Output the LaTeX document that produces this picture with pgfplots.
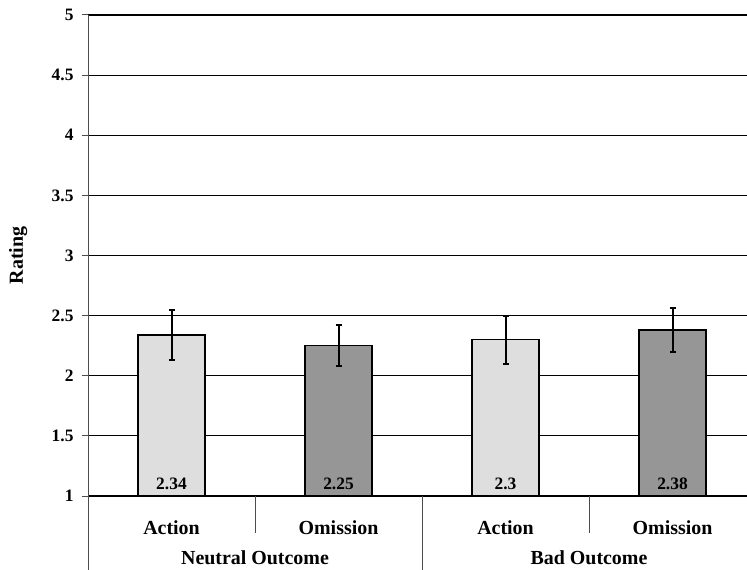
\documentclass[border=0pt]{standalone}
\usepackage{pgfplots}
\pgfplotsset{compat=1.18}
\usepackage{fontspec}
\setmainfont{Liberation Serif}
\definecolor{lightbar}{RGB}{222,222,222}
\definecolor{darkbar}{RGB}{150,150,150}
\newcommand{\bigf}{\fontsize{20}{24}\selectfont\bfseries}
\newcommand{\smallf}{\fontsize{17.5}{20}\selectfont\bfseries}
\begin{document}
\begin{tikzpicture}
\begin{axis}[
  at={(88bp,74bp)}, anchor=south west,
  scale only axis, width=659bp, height=481bp,
  xmin=-0.5, xmax=3.446, ymin=1, ymax=5,
  clip=false,
  axis x line*=bottom, axis y line*=left,
  axis line style={-},
  x axis line style={black, line width=1.2bp},
  y axis line style={black!70, line width=1bp},
  ytick={1,1.5,2,2.5,3,3.5,4,4.5,5},
  yticklabels={1,1.5,2,2.5,3,3.5,4,4.5,5},
  yticklabel style={font=\smallf, anchor=east, xshift=-5bp},
  ytick style={black!70, line width=1bp},
  tick align=outside, major tick length=6bp,
  xtick={0,1,2,3},
  xticklabels={Action,Omission,Action,Omission},
  xticklabel style={font=\bigf, anchor=base, yshift=-32bp},
  x tick style={draw=none},
  ymajorgrids, grid style={black, line width=1.2bp},
  bar width=0.4,
]
\addplot[ybar, fill=lightbar, draw=black, line width=1.5bp,
  error bars/.cd, y dir=both, y explicit,
  error bar style={black, line width=2bp},
  error mark options={black, line width=2bp, mark size=3bp, rotate=90}]
  coordinates {(0,2.34) +- (0,0.21) (2,2.30) +- (0,0.20)};
\addplot[ybar, fill=darkbar, draw=black, line width=1.5bp,
  error bars/.cd, y dir=both, y explicit,
  error bar style={black, line width=2bp},
  error mark options={black, line width=2bp, mark size=3bp, rotate=90}]
  coordinates {(1,2.25) +- (0,0.17) (3,2.38) +- (0,0.18)};
\addplot[only marks, mark=none, nodes near coords, point meta=explicit symbolic,
  every node near coord/.style={font=\smallf, anchor=base, yshift=6.5bp, inner sep=0pt}]
  coordinates {(0,1) [2.34] (1,1) [2.25] (2,1) [2.3] (3,1) [2.38]};
\draw[black!70, line width=1bp] (axis cs:0.5,1) -- ([yshift=-37bp]axis cs:0.5,1);
\draw[black!70, line width=1bp] (axis cs:2.5,1) -- ([yshift=-37bp]axis cs:2.5,1);
\draw[black!70, line width=1bp] (axis cs:1.5,1) -- ([yshift=-74bp]axis cs:1.5,1);
\draw[black!70, line width=1bp] (axis cs:-0.5,1) -- ([yshift=-74bp]axis cs:-0.5,1);
\node[font=\bigf, anchor=base] at ([yshift=-68bp]axis cs:0.5,1) {Neutral Outcome};
\node[font=\bigf, anchor=base] at ([yshift=-68bp]axis cs:2.5,1) {Bad Outcome};
\node[font=\bigf, rotate=90, anchor=base] at ([xshift=-65bp]axis cs:-0.5,3) {Rating};
\end{axis}
\pgfresetboundingbox
\path[use as bounding box] (0,0) rectangle (747bp,570bp);
\end{tikzpicture}
\end{document}
